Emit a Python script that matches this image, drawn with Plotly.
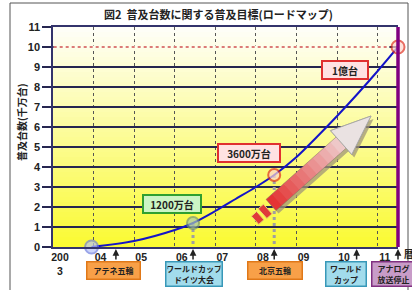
import math
import plotly.graph_objects as go

# ---------------- data ----------------
curve_year = [2003.95, 2005.0, 2006.0, 2006.45, 2007.0, 2007.5, 2008.0, 2008.45,
              2009.0, 2009.5, 2010.0, 2010.5, 2011.0, 2011.5]
curve_value = [0.0, 0.3, 0.85, 1.2, 1.8, 2.4, 3.0, 3.6, 4.5, 5.5, 6.55, 7.65, 8.8, 10.0]

milestone_year = [2003.95, 2006.45, 2008.45, 2011.5]
milestone_value = [0.0, 1.2, 3.6, 10.0]
milestone_label = ["", "1200万台", "3600万台", "1億台"]

event_year = [2004.55, 2006.45, 2008.45, 2010.48, 2011.5]
event_label = ["アテネ五輪", "ワールドカップ<br>ドイツ大会", "北京五輪", "ワールド<br>カップ", "アナログ<br>放送停止"]

x_tick_vals = [2003, 2004, 2005, 2006, 2007, 2008, 2009, 2010, 2011]
x_tick_text = ["200<br>3", "04", "05", "06", "07", "08", "09", "10", "11"]
y_tick_vals = list(range(0, 12))
target_value = 10

# ---------------- layout constants ----------------
L, R, T, B = 53, 14, 27, 43
W, H = 412, 290
PW, PH = W - L - R, H - T - B
X0, X1 = 2003, 2011.5
Y0, Y1 = 0, 11
CJK = "Noto Sans CJK JP, Liberation Sans, sans-serif"
NUM = "Liberation Sans, Arial, sans-serif"


def px2d(px, py):
    return X0 + (px - L) / PW * (X1 - X0), Y1 - (py - T) / PH * (Y1 - Y0)


def path(points):
    pts = [px2d(a, b) for a, b in points]
    return "M " + " L ".join(f"{x:.4f},{y:.4f}" for x, y in pts) + " Z"


def px_paper(px, py):
    return (px - L) / PW, (H - B - py) / PH


fig = go.Figure()

shapes = []
# gradient background (below grid)
n_band = 44
for i in range(n_band):
    y0 = Y0 + (Y1 - Y0) * i / n_band
    y1 = Y0 + (Y1 - Y0) * (i + 1) / n_band
    t = (y0 + y1) / 2 / (Y1 - Y0)
    r = int(250 + 5 * t)
    g = int(250 + 5 * t)
    b = int(50 + 200 * t)
    shapes.append(dict(type="rect", xref="paper", x0=0, x1=1, yref="y", y0=y0, y1=y1,
                       fillcolor=f"rgb({r},{g},{b})", line=dict(width=0), layer="below"))

# cover & red dotted target line
shapes.append(dict(type="line", xref="paper", x0=0.002, x1=0.975, yref="y", y0=target_value, y1=target_value,
                   line=dict(color="rgb(254,254,236)", width=3), layer="above"))
shapes.append(dict(type="line", xref="paper", x0=0.002, x1=0.975, yref="y", y0=target_value, y1=target_value,
                   line=dict(color="#D05050", width=1.3, dash="dot"), layer="above"))

# big decorative arrow
C0 = (271.0, 205.0)
TIP = (371.0, 116.0)
dx, dy = TIP[0] - C0[0], TIP[1] - C0[1]
ln = math.hypot(dx, dy)
u = (dx / ln, dy / ln)
nv = (-u[1], u[0])


def ap(s, t, off=(0, 0)):
    return (C0[0] + s * u[0] + t * nv[0] + off[0], C0[1] + s * u[1] + t * nv[1] + off[1])


w, h, base = 7.5, 16.0, ln - 40
outline = lambda off: [ap(0, -w, off), ap(base, -w, off), ap(base, -h, off), ap(ln, 0, off),
                       ap(base, h, off), ap(base, w, off), ap(0, w, off)]
shapes.append(dict(type="path", xref="x", yref="y", path=path(outline((2.5, 3))),
                   fillcolor="rgba(160,150,120,0.75)", line=dict(width=0), layer="above"))
nseg = 12
c_a, c_b = (228, 52, 52), (238, 200, 200)
for i in range(nseg):
    s0 = base * i / nseg
    s1 = min(base * (i + 1) / nseg + 0.6, base)
    tt = i / (nseg - 1)
    col = tuple(int(c_a[k] + (c_b[k] - c_a[k]) * tt) for k in range(3))
    shapes.append(dict(type="path", xref="x", yref="y",
                       path=path([ap(s0, -w), ap(s1, -w), ap(s1, w), ap(s0, w)]),
                       fillcolor=f"rgb({col[0]},{col[1]},{col[2]})", line=dict(width=0), layer="above"))
shapes.append(dict(type="path", xref="x", yref="y", path=path(outline((0, 0))),
                   fillcolor="rgba(0,0,0,0)", line=dict(color="rgba(120,110,100,0.6)", width=0.8), layer="above"))
shapes.append(dict(type="path", xref="x", yref="y",
                   path=path([ap(base, -h), ap(ln, 0), ap(base, h)]),
                   fillcolor="rgb(234,226,226)", line=dict(color="#A8A8A8", width=1), layer="above"))
# tail pieces
for s0, s1, hw in [(-10, -3, 6.5), (-20, -13, 5.5)]:
    shapes.append(dict(type="path", xref="x", yref="y",
                       path=path([ap(s0, -hw, (-1, 2)), ap(s1, -hw, (-1, 2)), ap(s1, hw, (-1, 2)), ap(s0, hw, (-1, 2))]),
                       fillcolor="#E03A3A", line=dict(color="#E8D870", width=1), layer="above"))

# right purple border
shapes.append(dict(type="line", xref="paper", x0=1, x1=1, yref="paper", y0=0, y1=1,
                   line=dict(color="#800080", width=3.5), layer="above"))
# outer frame
fx0, fy1 = px_paper(10, 3)
fx1, fy0 = px_paper(408, 300)
shapes.append(dict(type="rect", xref="paper", yref="paper", x0=fx0, x1=fx1, y0=fy0, y1=fy1,
                   line=dict(color="#555555", width=1), fillcolor="rgba(0,0,0,0)", layer="above"))

# ---------------- traces ----------------
for i in (1, 2):
    fig.add_trace(go.Scatter(x=[milestone_year[i], milestone_year[i]], y=[milestone_value[i], 0],
                             mode="lines", line=dict(color="#A0A0A0", width=3, dash="dot"),
                             hoverinfo="skip", showlegend=False))

fig.add_trace(go.Scatter(x=curve_year, y=curve_value, mode="lines",
                         line=dict(color="#1414C8", width=2, shape="spline", smoothing=0.8),
                         hoverinfo="skip", showlegend=False))

m_fill = ["#B8C4F8", "#A8C8B0", "#FFD6CC", "#FFD6CC"]
m_line = ["#7080E0", "#6E9080", "#E03020", "#E03020"]
m_size = [13, 12, 12, 13]
fig.add_trace(go.Scatter(x=milestone_year, y=milestone_value, mode="markers",
                         marker=dict(color=m_fill, size=m_size, line=dict(color=m_line, width=2)),
                         cliponaxis=False, hoverinfo="skip", showlegend=False))

# ---------------- annotations ----------------
ann = []
tx, ty = px_paper(218, 14)
ann.append(dict(xref="paper", yref="paper", x=tx, y=ty, xanchor="center", yanchor="middle",
                text="<b>図2  普及台数に関する普及目標(ロードマップ)</b>",
                showarrow=False, font=dict(family=CJK, size=11, color="#222")))
yx, yy = px_paper(22, 122)
ann.append(dict(xref="paper", yref="paper", x=yx, y=yy, xanchor="center", yanchor="middle",
                text="<b>普及台数(千万台)</b>", textangle=-90,
                showarrow=False, font=dict(family=CJK, size=10, color="#222")))
rx, ry = px_paper(402, 254)
ann.append(dict(xref="paper", yref="paper", x=rx, y=ry, xanchor="left", yanchor="middle", text="<b>暦年</b>",
                showarrow=False, font=dict(family=CJK, size=10, color="#222")))

lab_style = {
    1: dict(xshift=-21, yshift=19, width=54, bg="#CCF5C4", bc="#30A030"),
    2: dict(xshift=-25, yshift=22, width=58, bg="#FFE2E2", bc="#E03030"),
    3: dict(xshift=-53, yshift=-23, width=42, bg="#FFE2E2", bc="#E03030"),
}
for i, st in lab_style.items():
    ann.append(dict(x=milestone_year[i], y=milestone_value[i], xref="x", yref="y", text=f"<b>{milestone_label[i]}</b>",
                    showarrow=False, xshift=st["xshift"], yshift=st["yshift"], width=st["width"], height=14,
                    bgcolor=st["bg"], bordercolor=st["bc"], borderwidth=2, borderpad=1,
                    font=dict(family=CJK, size=10, color="#222")))

ev_style = [
    dict(xshift=-2, width=50, height=14, bg="#F8A048", bc="#E07818"),
    dict(xshift=1, width=53, height=21, bg="#A2DCEC", bc="#3898B8"),
    dict(xshift=1, width=51, height=14, bg="#F8A048", bc="#E07818"),
    dict(xshift=-11, width=37, height=21, bg="#A2DCEC", bc="#3898B8"),
    dict(xshift=-5, width=40, height=21, bg="#C89CC8", bc="#803080"),
]
for i, st in enumerate(ev_style):
    ann.append(dict(x=event_year[i], y=0, xref="x", yref="paper", yanchor="top", yshift=-14,
                    xshift=st["xshift"], text=f"<b>{event_label[i]}</b>", showarrow=False,
                    width=st["width"], height=st["height"], bgcolor=st["bg"], bordercolor=st["bc"],
                    borderwidth=1.5, borderpad=1, font=dict(family=CJK, size=8, color="#222")))
    ann.append(dict(x=event_year[i], y=0, xref="x", yref="paper", text="", showarrow=True,
                    ax=0, ay=14, arrowhead=2, arrowsize=0.9, arrowwidth=1.5, arrowcolor="#222", standoff=2))

fig.update_layout(
    width=W, height=H, margin=dict(l=L, r=R, t=T, b=B),
    paper_bgcolor="white", plot_bgcolor="white",
    shapes=shapes, annotations=ann, showlegend=False, hovermode=False,
    xaxis=dict(range=[X0, X1], tickvals=x_tick_vals, ticktext=x_tick_text, ticklabelshift=7,
               showgrid=True, gridcolor="#555555", griddash="dot", gridwidth=1.3,
               showline=True, linecolor="#33336B", linewidth=1.5, mirror=True, zeroline=False,
               ticks="", tickfont=dict(family=NUM, size=10.5, color="#222", weight="bold"), fixedrange=True),
    yaxis=dict(range=[Y0, Y1], tickvals=y_tick_vals, showgrid=True, gridcolor="#262650", gridwidth=1.5,
               showline=True, linecolor="#33336B", linewidth=1.5, zeroline=False,
               ticks="outside", ticklen=9, tickcolor="#262650", tickwidth=1.5,
               tickfont=dict(family=NUM, size=11, color="#222", weight="bold"), fixedrange=True),
)

fig.write_html("out.html", config={"displayModeBar": False},
               post_script="document.body.style.margin='0';document.body.style.overflow='hidden';")
